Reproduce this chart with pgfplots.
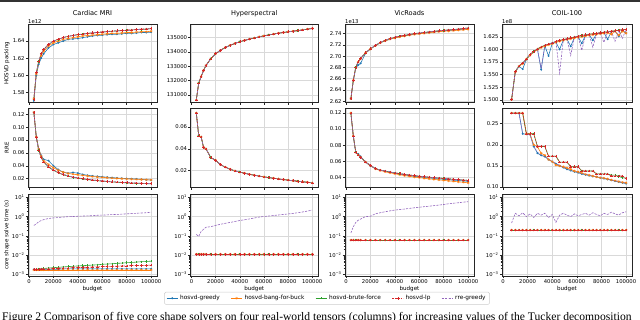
\documentclass[border=0pt]{standalone}
\usepackage{pgfplots}
\pgfplotsset{compat=1.18}
\usepackage{pgfplotstable}
\usepackage{fontspec}
\setmainfont{DejaVu Sans}
\newfontfamily\capfont{Liberation Serif}
\definecolor{mblue}{HTML}{1F77B4}
\definecolor{morange}{HTML}{FF7F0E}
\definecolor{mgreen}{HTML}{2CA02C}
\definecolor{mred}{HTML}{D62728}
\definecolor{mpurple}{HTML}{9467BD}

\pgfplotstableread{
x pg pb pf pl pr eg eb ef el er tg tb tf tl tr
4000 1.5700 1.5725 1.5715 1.5718 1.5718 0.1230 0.1230 0.1230 0.1230 0.1230 0.0018 0.0017 0.0018 0.0018 0.35
6000 1.6000 1.6015 1.6030 1.6032 1.6030 0.0850 0.0850 0.0840 0.0840 0.0840 0.0018 0.0017 0.0018 0.0018 0.42
8000 1.6130 1.6150 1.6160 1.6162 1.6160 0.0660 0.0660 0.0640 0.0640 0.0640 0.0018 0.0017 0.0019 0.0018 0.55
10000 1.6200 1.6230 1.6250 1.6252 1.6250 0.0560 0.0550 0.0530 0.0530 0.0530 0.0018 0.0017 0.0019 0.0019 0.62
12000 1.6250 1.6280 1.6300 1.6302 1.6300 0.0500 0.0480 0.0460 0.0460 0.0460 0.0018 0.0017 0.0020 0.0019 0.70
16000 1.6320 1.6340 1.6360 1.6362 1.6360 0.0480 0.0420 0.0380 0.0385 0.0385 0.0018 0.0017 0.0021 0.0019 0.80
20000 1.6360 1.6380 1.6400 1.6402 1.6400 0.0400 0.0370 0.0330 0.0335 0.0335 0.0018 0.0017 0.0022 0.0020 0.86
24000 1.6380 1.6400 1.6420 1.6423 1.6420 0.0340 0.0330 0.0290 0.0295 0.0295 0.0018 0.0017 0.0023 0.0020 0.90
28000 1.6400 1.6420 1.6440 1.6442 1.6440 0.0300 0.0300 0.0260 0.0265 0.0265 0.0019 0.0017 0.0024 0.0021 0.95
32000 1.6420 1.6430 1.6455 1.6456 1.6455 0.0285 0.0280 0.0238 0.0243 0.0243 0.0019 0.0017 0.0025 0.0021 1.00
36000 1.6425 1.6440 1.6465 1.6467 1.6465 0.0295 0.0270 0.0220 0.0225 0.0225 0.0019 0.0017 0.0026 0.0022 1.02
40000 1.6430 1.6450 1.6475 1.6476 1.6475 0.0285 0.0260 0.0207 0.0212 0.0212 0.0019 0.0017 0.0027 0.0022 1.05
44000 1.6440 1.6460 1.6480 1.6483 1.6480 0.0265 0.0250 0.0195 0.0200 0.0200 0.0019 0.0017 0.0028 0.0023 1.08
48000 1.6450 1.6465 1.6490 1.6491 1.6490 0.0252 0.0240 0.0184 0.0190 0.0190 0.0019 0.0017 0.0029 0.0023 1.10
52000 1.6460 1.6470 1.6495 1.6497 1.6495 0.0242 0.0232 0.0175 0.0180 0.0180 0.0019 0.0017 0.0030 0.0024 1.12
56000 1.6465 1.6475 1.6500 1.6503 1.6500 0.0235 0.0225 0.0167 0.0172 0.0172 0.0019 0.0017 0.0031 0.0024 1.18
60000 1.6470 1.6480 1.6505 1.6508 1.6505 0.0228 0.0220 0.0160 0.0165 0.0165 0.0019 0.0017 0.0033 0.0025 1.20
64000 1.6475 1.6485 1.6510 1.6513 1.6510 0.0222 0.0214 0.0154 0.0158 0.0158 0.0019 0.0017 0.0034 0.0025 1.24
68000 1.6480 1.6490 1.6515 1.6517 1.6515 0.0216 0.0208 0.0148 0.0152 0.0152 0.0019 0.0017 0.0035 0.0026 1.28
72000 1.6480 1.6490 1.6520 1.6521 1.6520 0.0210 0.0203 0.0143 0.0147 0.0147 0.0019 0.0017 0.0037 0.0026 1.30
76000 1.6485 1.6495 1.6522 1.6525 1.6522 0.0205 0.0199 0.0138 0.0142 0.0142 0.0019 0.0017 0.0038 0.0027 1.35
80000 1.6490 1.6500 1.6525 1.6528 1.6525 0.0200 0.0196 0.0134 0.0138 0.0138 0.0019 0.0017 0.0040 0.0027 1.40
84000 1.6490 1.6500 1.6530 1.6532 1.6530 0.0198 0.0192 0.0130 0.0134 0.0134 0.0019 0.0017 0.0041 0.0028 1.45
88000 1.6495 1.6505 1.6533 1.6536 1.6533 0.0195 0.0189 0.0127 0.0131 0.0131 0.0019 0.0017 0.0043 0.0028 1.50
92000 1.6500 1.6510 1.6537 1.6540 1.6537 0.0188 0.0186 0.0124 0.0128 0.0128 0.0019 0.0017 0.0045 0.0029 1.55
96000 1.6500 1.6510 1.6540 1.6543 1.6540 0.0182 0.0183 0.0121 0.0125 0.0125 0.0019 0.0017 0.0046 0.0029 1.60
100000 1.6505 1.6515 1.6545 1.6547 1.6545 0.0178 0.0180 0.0118 0.0122 0.0122 0.0019 0.0017 0.0048 0.0030 1.70
}\card

\pgfplotstableread{
x pk e h tr
4000 130650 0.0730 0.011 0.12
6000 131830 0.0520 0.011 0.093
8000 132280 0.0510 0.011 0.17
10000 132700 0.0415 0.011 0.22
12000 133050 0.0400 0.011 0.28
16000 133520 0.0320 0.011 0.30
20000 133870 0.0295 0.011 0.35
24000 134100 0.0255 0.011 0.40
28000 134300 0.0232 0.011 0.45
32000 134450 0.0213 0.011 0.50
36000 134580 0.0198 0.011 0.56
40000 134700 0.0186 0.011 0.63
44000 134790 0.0176 0.011 0.69
48000 134880 0.0166 0.011 0.76
52000 134960 0.0158 0.011 0.85
56000 135040 0.0150 0.011 0.95
60000 135110 0.0143 0.011 1.02
64000 135170 0.0136 0.011 1.08
68000 135230 0.0130 0.011 1.15
72000 135290 0.0124 0.011 1.22
76000 135340 0.0118 0.011 1.30
80000 135390 0.0113 0.011 1.38
84000 135430 0.0108 0.011 1.48
88000 135470 0.0103 0.011 1.60
92000 135520 0.0098 0.011 1.75
96000 135570 0.0093 0.011 1.95
100000 135620 0.0088 0.011 2.20
}\hyp

\pgfplotstableread{
x pg pb pu eg eb eu h tr
4000 2.6240 2.6245 2.6245 0.1200 0.1200 0.1200 0.06 0.14
6000 2.6560 2.6570 2.6570 0.0910 0.0915 0.0915 0.06 0.30
8000 2.6790 2.6800 2.6800 0.0710 0.0712 0.0712 0.06 0.50
10000 2.6840 2.6890 2.6900 0.0690 0.0680 0.0680 0.06 0.65
12000 2.6870 2.6950 2.6960 0.0660 0.0650 0.0650 0.06 0.75
16000 2.7050 2.7055 2.7060 0.0590 0.0590 0.0590 0.06 1.00
20000 2.7125 2.7125 2.7130 0.0540 0.0545 0.0550 0.06 1.05
24000 2.7185 2.7185 2.7190 0.0510 0.0505 0.0510 0.06 1.40
28000 2.7235 2.7235 2.7240 0.0490 0.0485 0.0490 0.06 1.60
32000 2.7270 2.7270 2.7280 0.0476 0.0470 0.0478 0.06 1.80
36000 2.7300 2.7300 2.7310 0.0462 0.0456 0.0466 0.06 2.00
40000 2.7325 2.7320 2.7335 0.0452 0.0445 0.0456 0.06 2.20
44000 2.7345 2.7340 2.7355 0.0440 0.0432 0.0446 0.06 2.35
48000 2.7360 2.7355 2.7370 0.0430 0.0422 0.0437 0.06 2.50
52000 2.7375 2.7370 2.7385 0.0420 0.0412 0.0429 0.06 2.70
56000 2.7390 2.7385 2.7400 0.0412 0.0403 0.0421 0.06 2.90
60000 2.7400 2.7395 2.7410 0.0405 0.0396 0.0414 0.06 3.10
64000 2.7410 2.7405 2.7420 0.0398 0.0388 0.0408 0.06 3.30
68000 2.7420 2.7415 2.7430 0.0392 0.0381 0.0402 0.06 3.50
72000 2.7430 2.7425 2.7440 0.0386 0.0374 0.0396 0.06 3.75
76000 2.7440 2.7435 2.7450 0.0380 0.0368 0.0391 0.06 4.00
80000 2.7450 2.7440 2.7458 0.0375 0.0362 0.0386 0.06 4.30
84000 2.7455 2.7445 2.7465 0.0370 0.0356 0.0381 0.06 4.70
88000 2.7462 2.7452 2.7472 0.0365 0.0350 0.0376 0.06 5.00
92000 2.7470 2.7460 2.7480 0.0360 0.0344 0.0371 0.06 5.30
96000 2.7478 2.7467 2.7490 0.0355 0.0338 0.0366 0.06 5.70
100000 2.7485 2.7475 2.7500 0.0350 0.0332 0.0362 0.06 6.00
}\vic

\pgfplotstableread{
x pu pg pb pr eu ef eg eb er h tr
7000 1.5005 1.5005 1.5005 1.5005 0.275 0.275 0.275 0.275 0.275 0.2 0.47
10000 1.5560 1.5555 1.5555 1.5560 0.275 0.275 0.275 0.275 0.275 0.2 1.5
13000 1.5670 1.5660 1.5665 1.5670 0.275 0.275 0.275 0.275 0.275 0.2 1.1
16000 1.5730 1.5610 1.5715 1.5725 0.275 0.275 0.226 0.275 0.226 0.2 1.6
19000 1.5810 1.5800 1.5805 1.5810 0.226 0.226 0.225 0.226 0.225 0.2 1.0
22000 1.5900 1.5890 1.5880 1.5900 0.226 0.226 0.224 0.225 0.224 0.2 1.4
25000 1.5960 1.5950 1.5945 1.5960 0.226 0.226 0.196 0.200 0.196 0.2 0.9
28000 1.6010 1.6000 1.5995 1.6010 0.196 0.196 0.180 0.195 0.182 0.2 1.5
31000 1.6050 1.5600 1.6035 1.5620 0.196 0.196 0.175 0.180 0.176 0.2 1.2
34000 1.6080 1.6070 1.6060 1.6080 0.196 0.196 0.172 0.175 0.172 0.2 1.5
37000 1.6105 1.5870 1.6090 1.6100 0.173 0.173 0.165 0.165 0.166 0.2 0.9
40000 1.6130 1.6120 1.6110 1.6130 0.173 0.173 0.160 0.160 0.161 0.2 1.3
43000 1.6155 1.6140 1.6140 1.6150 0.173 0.173 0.155 0.152 0.156 0.2 0.5
46000 1.6180 1.6000 1.6160 1.5530 0.159 0.159 0.150 0.150 0.151 0.2 1.2
49000 1.6195 1.6185 1.6180 1.6190 0.159 0.159 0.146 0.148 0.147 0.2 1.5
52000 1.6210 1.6200 1.6195 1.6205 0.159 0.159 0.142 0.145 0.143 0.2 1.2
55000 1.6230 1.6060 1.6210 1.5880 0.148 0.148 0.139 0.142 0.140 0.2 1.0
58000 1.6245 1.6235 1.6225 1.6240 0.148 0.148 0.136 0.138 0.137 0.2 1.4
61000 1.6260 1.6250 1.6240 1.6255 0.148 0.148 0.134 0.136 0.135 0.2 1.1
64000 1.6275 1.6120 1.6250 1.5980 0.138 0.138 0.131 0.133 0.132 0.2 1.3
67000 1.6290 1.6280 1.6265 1.6285 0.138 0.138 0.129 0.130 0.130 0.2 1.5
70000 1.6300 1.6290 1.6280 1.6295 0.138 0.138 0.127 0.128 0.128 0.2 1.2
73000 1.6310 1.6180 1.6290 1.6040 0.138 0.138 0.125 0.126 0.126 0.2 1.6
76000 1.6320 1.6310 1.6300 1.6315 0.131 0.131 0.124 0.124 0.125 0.2 1.3
79000 1.6330 1.6320 1.6310 1.6325 0.131 0.131 0.122 0.122 0.123 0.2 1.1
82000 1.6340 1.6330 1.6320 1.6140 0.131 0.131 0.120 0.121 0.121 0.2 1.5
85000 1.6350 1.6200 1.6330 1.6345 0.131 0.131 0.118 0.119 0.119 0.2 1.3
88000 1.6360 1.6350 1.6300 1.6355 0.126 0.128 0.116 0.117 0.117 0.2 1.7
91000 1.6370 1.6360 1.6360 1.6160 0.126 0.128 0.114 0.115 0.115 0.2 1.4
94000 1.6380 1.6260 1.6280 1.6375 0.126 0.125 0.112 0.113 0.113 0.2 1.2
97000 1.6390 1.6380 1.6360 1.6220 0.126 0.122 0.110 0.111 0.111 0.2 1.6
100000 1.6395 1.6320 1.6320 1.6390 0.120 0.121 0.108 0.110 0.109 0.2 1.8
}\coil

\pgfplotsset{
  panel/.style={
    scale only axis, xmin=-800, xmax=104800,
    axis line style={black!85, line width=0.55pt},
    grid=major, major grid style={black!15, line width=0.5pt},
    tick align=outside, tick pos=left,
    major tick length=2.2pt, minor tick length=1.3pt,
    every tick/.style={black!85, line width=0.5pt},
    xtick={0,20000,40000,60000,80000,100000},
    ticklabel style={font=\fontsize{5.3}{6}\selectfont, inner sep=1pt},
    scaled ticks=false,
    /pgf/number format/assume math mode=true,
    xticklabel style={/pgf/number format/fixed, /pgf/number format/1000 sep={}},
    title style={font=\fontsize{6.6}{7.5}\selectfont, at={(axis description cs:0.5,1)}, anchor=base, yshift=2.8pt, inner sep=0pt},
    ylabel style={font=\fontsize{5.5}{6.5}\selectfont, at={(axis description cs:-0.163,0.5)}, anchor=center},
    xlabel style={font=\fontsize{5.6}{6.5}\selectfont, at={(axis description cs:0.5,-0.15)}, anchor=center},
  },
  toprow/.style={height=78.5pt, xticklabels={}},
  midrow/.style={height=79pt, xticklabels={}},
  botrow/.style={height=82.4pt, xlabel={budget}, ymin=7.9e-4, ymax=15.5,
    ytick={0.001,0.01,0.1,1,10},
    yticklabels={10\textsuperscript{−3},10\textsuperscript{−2},10\textsuperscript{−1},10\textsuperscript{0},10\textsuperscript{1}}},
  sg/.style={mblue, line width=0.6pt, mark=*, mark size=0.65pt},
  sb/.style={morange, line width=0.6pt, mark=asterisk, mark size=1.3pt, mark options={line width=0.4pt}},
  sf/.style={mgreen, line width=0.6pt, mark=|, mark size=1.2pt},
  sl/.style={mred, line width=0.6pt, dash pattern=on 1.8pt off 1pt, mark=+, mark size=1.3pt, mark options={solid, line width=0.4pt}},
  sr/.style={mpurple, line width=0.6pt, dash pattern=on 2.2pt off 1.2pt},
}
\newcommand\fivep[6]{%
  \addplot[sg] table[x=x,y=#2]{#1};
  \addplot[sb] table[x=x,y=#3]{#1};
  \addplot[sf] table[x=x,y=#4]{#1};
  \addplot[sl] table[x=x,y=#5]{#1};
  \addplot[sr] table[x=x,y=#6]{#1};}

\begin{document}
\begin{tikzpicture}[x=1pt,y=1pt]
\useasboundingbox (0,0) rectangle (640,-319);
\fill[black!80] (0,0) rectangle (640,-1.6);

% ---------- row 1 ----------
\begin{axis}[panel, toprow, name=a11, at={(28pt,-102.5pt)}, anchor=south west, width=129pt,
  ymin=1.568, ymax=1.660, ytick={1.58,1.60,1.62,1.64},
  yticklabel style={/pgf/number format/fixed, /pgf/number format/fixed zerofill, /pgf/number format/precision=2},
  title={Cardiac MRI}, ylabel={HOSVD packing}]
\fivep{\card}{pg}{pb}{pf}{pl}{pr}
\end{axis}
\begin{axis}[panel, toprow, name=a12, at={(190.5pt,-102.5pt)}, anchor=south west, width=127.5pt,
  ymin=130480, ymax=135930, ytick={131000,132000,133000,134000,135000},
  yticklabel style={/pgf/number format/fixed, /pgf/number format/1000 sep={}},
  title={Hyperspectral}]
\fivep{\hyp}{pk}{pk}{pk}{pk}{pk}
\end{axis}
\begin{axis}[panel, toprow, name=a13, at={(345pt,-102.5pt)}, anchor=south west, width=129pt,
  ymin=2.6175, ymax=2.757, ytick={2.62,2.64,2.66,2.68,2.70,2.72,2.74},
  yticklabel style={/pgf/number format/fixed, /pgf/number format/fixed zerofill, /pgf/number format/precision=2},
  title={VicRoads}]
\fivep{\vic}{pg}{pb}{pu}{pu}{pu}
\end{axis}
\begin{axis}[panel, toprow, name=a14, at={(502pt,-102.5pt)}, anchor=south west, width=130pt,
  ymin=1.4946, ymax=1.6503, ytick={1.500,1.525,1.550,1.575,1.600,1.625},
  yticklabel style={/pgf/number format/fixed, /pgf/number format/fixed zerofill, /pgf/number format/precision=3},
  title={COIL-100}]
\fivep{\coil}{pg}{pb}{pu}{pu}{pr}
\end{axis}

% ---------- row 2 ----------
\begin{axis}[panel, midrow, at={(28pt,-187.3pt)}, anchor=south west, width=129pt,
  ymin=0.0065, ymax=0.1293, ytick={0.02,0.04,0.06,0.08,0.10,0.12},
  yticklabel style={/pgf/number format/fixed, /pgf/number format/fixed zerofill, /pgf/number format/precision=2},
  ylabel={RRE}]
\fivep{\card}{eg}{eb}{ef}{el}{er}
\end{axis}
\begin{axis}[panel, midrow, at={(190.5pt,-187.3pt)}, anchor=south west, width=127.5pt,
  ymin=0.0047, ymax=0.0772, ytick={0.02,0.04,0.06},
  yticklabel style={/pgf/number format/fixed, /pgf/number format/fixed zerofill, /pgf/number format/precision=2}]
\fivep{\hyp}{e}{e}{e}{e}{e}
\end{axis}
\begin{axis}[panel, midrow, at={(345pt,-187.3pt)}, anchor=south west, width=129pt,
  ymin=0.0276, ymax=0.1258, ytick={0.04,0.06,0.08,0.10,0.12},
  yticklabel style={/pgf/number format/fixed, /pgf/number format/fixed zerofill, /pgf/number format/precision=2}]
\fivep{\vic}{eg}{eb}{eu}{eu}{eu}
\end{axis}
\begin{axis}[panel, midrow, at={(502pt,-187.3pt)}, anchor=south west, width=130pt,
  ymin=0.0993, ymax=0.2863, ytick={0.10,0.15,0.20,0.25},
  yticklabel style={/pgf/number format/fixed, /pgf/number format/fixed zerofill, /pgf/number format/precision=2}]
\fivep{\coil}{eg}{eb}{ef}{eu}{er}
\end{axis}

% ---------- row 3 ----------
\begin{semilogyaxis}[panel, botrow, at={(28pt,-276.2pt)}, anchor=south west, width=129pt,
  ylabel={core shape solve time (s)}]
\fivep{\card}{tg}{tb}{tf}{tl}{tr}
\end{semilogyaxis}
\begin{semilogyaxis}[panel, botrow, at={(190.5pt,-276.2pt)}, anchor=south west, width=127.5pt,
  legend columns=5,
  legend image code/.code={\draw[mark repeat=2, mark phase=2, #1] plot coordinates {(0pt,0pt) (5.6pt,0pt) (11.2pt,0pt)};},
  legend style={at={(axis description cs:1.0706,-0.268)}, anchor=center, draw=black!20, fill=white,
    rounded corners=1.5pt, inner xsep=2pt, inner ysep=1.2pt, font=\fontsize{5.8}{6.8}\selectfont,
    /tikz/every even column/.append style={column sep=9pt}},
  legend cell align=left]
\fivep{\hyp}{h}{h}{h}{h}{tr}
\legend{hosvd-greedy,hosvd-bang-for-buck,hosvd-brute-force,hosvd-lp,rre-greedy}
\end{semilogyaxis}
\begin{semilogyaxis}[panel, botrow, at={(345pt,-276.2pt)}, anchor=south west, width=129pt]
\fivep{\vic}{h}{h}{h}{h}{tr}
\end{semilogyaxis}
\begin{semilogyaxis}[panel, botrow, at={(502pt,-276.2pt)}, anchor=south west, width=130pt]
\fivep{\coil}{h}{h}{h}{h}{tr}
\end{semilogyaxis}

% offset texts
\node[anchor=base west, inner sep=0pt, font=\fontsize{5.3}{6}\selectfont] at ([yshift=1pt]a11.north west) {1e12};
\node[anchor=base west, inner sep=0pt, font=\fontsize{5.3}{6}\selectfont] at ([yshift=1pt]a13.north west) {1e13};
\node[anchor=base west, inner sep=0pt, font=\fontsize{5.3}{6}\selectfont] at ([yshift=1pt]a14.north west) {1e8};

% caption (cut by the page edge, as in the reference)
\node[anchor=base west, inner sep=0pt, font=\capfont\fontsize{11.6}{13}\selectfont] at (2,-320.5)
  {Figure 2 Comparison of five core shape solvers on four real-world tensors (columns) for increasing values of the Tucker decomposition};
\end{tikzpicture}
\end{document}
